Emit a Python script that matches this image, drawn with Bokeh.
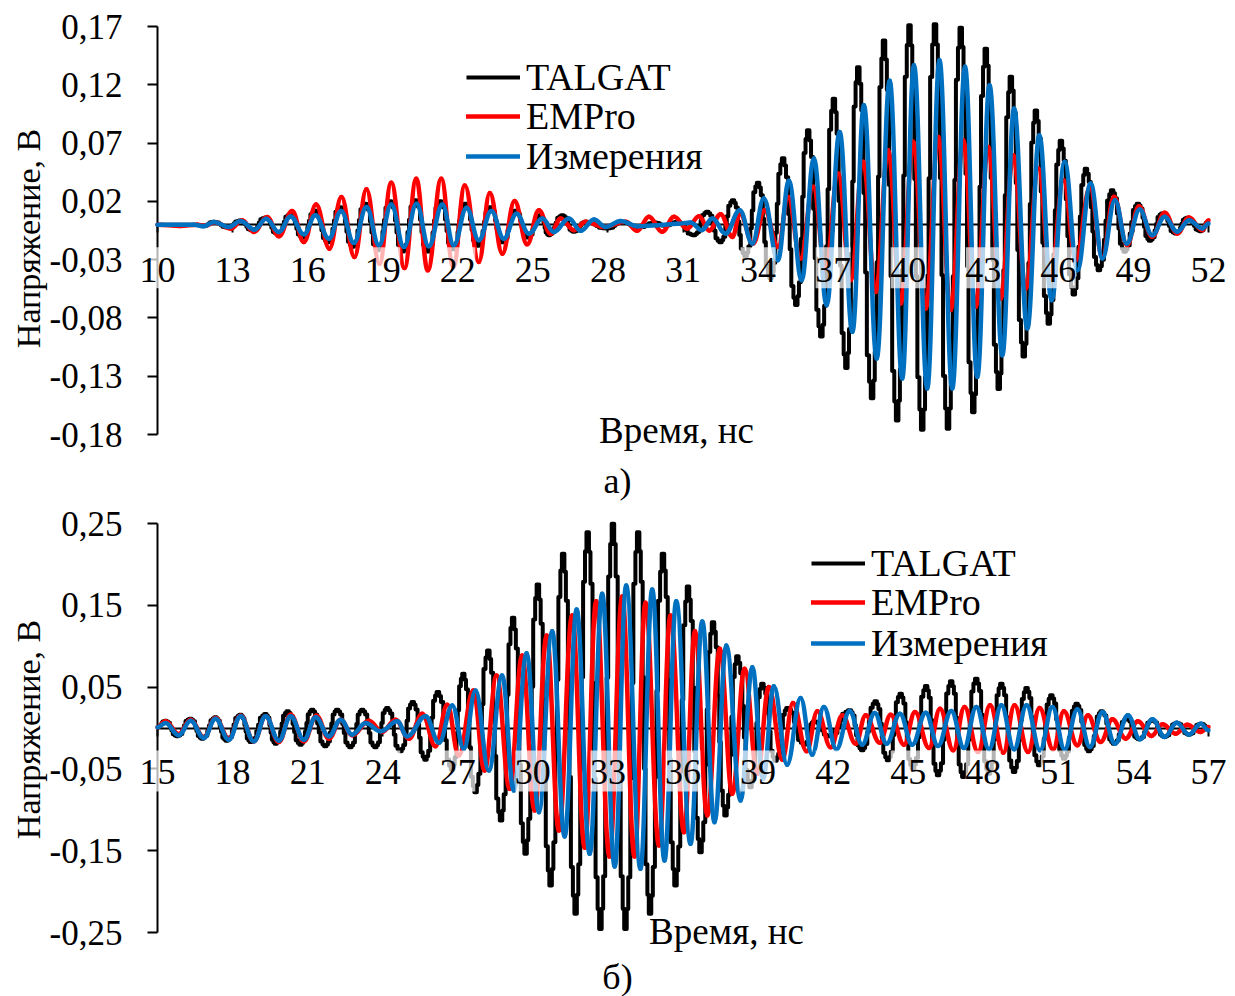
from bokeh.plotting import figure
from bokeh.layouts import column
from bokeh.models import ColumnDataSource, FixedTicker, Label, LabelSet, Legend, LegendItem
from bokeh.embed import file_html
from bokeh.resources import INLINE

# Panel a: turning points of each curve (time ns, voltage V)
A_BLACK_T = [10,11.5,11.85,12.25,12.8,13.3,13.8,14.3,14.8,15.3,15.8,16.3,16.8,17.3,17.8,18.3,18.8,19.3,19.8,20.3,20.8,21.3,21.8,22.3,22.8,23.3,23.8,24.3,24.8,25.3,25.64,26.18,26.64,27.11,27.97,28.6,29.2,29.9,30.3,30.77,31.44,31.97,32.5,33.0,33.5,34,34.5,35,35.53,36,36.53,37.03,37.53,38,38.56,39.03,39.56,40.05,40.56,41.07,41.59,42.1,42.6,43.1,43.62,44.1,44.62,45.1,45.62,46.1,46.62,47.1,47.62,48.15,48.65,49.18,49.66,50.15,50.69,51.15,51.69,52]
A_BLACK_V = [0,0,-.001,.0025,-.0025,.0035,-.005,.006,-.008,.009,-.011,.012,-.015,.015,-.019,.018,-.022,.02,-.023,.021,-.023,.02,-.021,.018,-.018,.015,-.015,.012,-.011,.008,-.009,.0081,-.0061,.0024,-.0033,.0022,-.0025,.0018,-.001,.0024,-.009,.011,-.015,.021,-.027,.036,-.046,.057,-.069,.081,-.096,.108,-.123,.135,-.149,.158,-.168,.171,-.176,.172,-.175,.169,-.161,.151,-.141,.127,-.113,.098,-.085,.072,-.06,.048,-.039,.0296,-.0233,.018,-.0139,.0096,-.0076,.0059,-.0056,.0024]
A_RED_T = [10,10.9,11.6,11.9,12.3,12.92,13.38,13.85,14.38,14.85,15.38,15.85,16.34,16.87,17.35,17.87,18.35,18.87,19.34,19.87,20.34,20.8,21.34,21.82,22.28,22.84,23.28,23.78,24.27,24.77,25.24,25.71,26.11,26.64,27.11,27.84,28.71,29.17,29.64,30.17,30.64,31.17,31.64,32.05,32.5,32.98,33.27,33.8,34.26,34.8,35.2,35.7,36.2,36.7,37.2,37.7,38.2,38.7,39.2,39.7,40.2,40.7,41.2,41.7,42.2,42.7,43.2,43.7,44.2,44.7,45.2,45.7,46.2,46.7,47.26,47.76,48.22,48.75,49.22,49.75,50.25,50.75,51.22,51.75,52]
A_RED_V = [0,-.0012,0,-.001,.002,-.0034,.0037,-.0063,.0066,-.01,.0117,-.0149,.0172,-.0206,.0237,-.0277,.0303,-.0335,.036,-.0372,.0395,-.0392,.0395,-.0363,.0337,-.032,.0272,-.0249,.0203,-.0169,.0123,-.0077,.0053,-.0047,.0024,-.0019,.0024,-.0053,.0067,-.0061,.0067,-.0033,.0073,-.005,.009,-.0105,.0096,-.0162,.0124,-.019,.0238,-.029,.0326,-.0378,.0439,-.0477,.0539,-.0577,.0639,-.0677,.0711,-.0719,.0753,-.0733,.0725,-.0705,.0667,-.0634,.0596,-.0548,.0482,-.0449,.0382,-.0305,.032,-.028,.0239,-.0176,.0159,-.0104,.0102,-.0076,.0061,-.0047,.0039]
A_BLUE_T = [10,11.45,11.85,12.25,12.85,13.32,13.88,14.34,14.85,15.32,15.85,16.31,16.85,17.34,17.85,18.35,18.85,19.34,19.85,20.35,20.84,21.38,21.84,22.35,22.84,23.34,23.84,24.35,24.84,25.38,25.84,26.44,26.91,27.44,27.91,28.51,29.17,29.97,30.77,31.3,31.75,32.17,32.7,33.27,33.77,34.23,34.79,35.23,35.74,36.23,36.74,37.26,37.77,38.23,38.74,39.26,39.76,40.23,40.76,41.25,41.76,42.27,42.76,43.25,43.76,44.23,44.76,45.24,45.73,46.25,46.76,47.29,47.76,48.26,48.73,49.25,49.75,50.25,50.75,51.22,51.75,52]
A_BLUE_V = [0,0,-.0014,.0023,-.002,.0031,-.0043,.0051,-.0063,.0071,-.0083,.008,-.012,.0117,-.0157,.0152,-.0177,.0172,-.0192,.018,-.0186,.0172,-.0177,.0146,-.0134,.0117,-.012,.0094,-.0077,.0053,-.0062,.0053,-.0053,.0044,-.002,.0032,-.0013,-.0004,.0007,.0019,-.0047,.0053,-.0076,.0124,-.0162,.0225,-.0305,.0376,-.0476,.0568,-.0691,.0796,-.0919,.1025,-.1148,.1234,-.132,.1368,-.1405,.1411,-.1405,.1354,-.1306,.1197,-.112,.0997,-.089,.0768,-.0648,.0539,-.039,.0353,-.029,.021,-.0162,.013,-.009,.0067,-.0061,.0039,-.0033,.001]

# Panel b
B_BLACK_T = [15,15.32,15.79,16.32,16.79,17.32,17.76,18.32,18.72,19.32,19.72,20.2,20.72,21.18,21.71,22.18,22.71,23.18,23.71,24.18,24.71,25.2,25.71,26.2,26.78,27.22,27.71,28.22,28.73,29.21,29.71,30.2,30.71,31.21,31.71,32.19,32.7,33.2,33.7,34.21,34.68,35.2,35.7,36.2,36.7,37.2,37.7,38.17,38.7,39.17,39.7,40.17,40.86,41.23,41.87,42.67,43.16,43.7,44.19,44.7,45.19,45.72,46.19,46.72,47.2,47.72,48.23,48.72,49.23,49.73,50.23,50.72,51.23,51.73,52.22,52.73,53.22,53.73,54.22,54.76,55.25,55.73,56.22,56.69,57]
B_BLACK_V = [.001,.009,-.0102,.0114,-.013,.013,-.0155,.0163,-.0171,.0171,-.0192,.0204,-.0204,.0224,-.0224,.0224,-.0236,.0224,-.0236,.0245,-.0285,.0318,-.0387,.044,-.0509,.0662,-.0784,.0947,-.1131,.1347,-.1538,.1754,-.1925,.2129,-.2272,.2394,-.2456,.2496,-.2456,.2394,-.2272,.2129,-.1925,.173,-.1518,.1294,-.107,.0878,-.0723,.054,-.04,.0245,-.0204,.0082,-.0102,.0216,-.0273,.0326,-.0395,.042,-.0497,.0513,-.0579,.057,-.0599,.0603,-.0558,.0542,-.0538,.0489,-.0456,.0399,-.0375,.0297,-.0285,.0204,-.0192,.0113,-.0139,.0095,-.011,.0065,-.0081,.0053,.001]
B_RED_T = [15,15.32,15.85,16.32,16.85,17.32,17.85,18.32,18.85,19.32,19.85,20.32,20.85,21.35,21.85,22.32,22.78,23.45,23.98,24.51,25.05,25.58,26.11,26.58,27.04,27.62,28.07,28.55,29.07,29.57,30.07,30.55,31.04,31.57,32.07,32.53,33.06,33.57,34.06,34.5,35.04,35.5,36.04,36.48,36.97,37.47,37.97,38.46,38.97,39.43,39.97,40.39,40.94,41.37,41.9,42.37,42.9,43.3,43.86,44.3,44.83,45.27,45.83,46.27,46.8,47.25,47.79,48.27,48.8,49.25,49.79,50.25,50.79,51.22,51.76,52.18,52.69,53.16,53.69,54.18,54.72,55.16,55.69,56.15,56.69,57]
B_RED_V = [.001,.0081,-.0073,.0102,-.0114,.0122,-.013,.0151,-.0163,.0143,-.0171,.0163,-.0163,.0151,-.013,.0102,-.009,.009,-.0049,.0102,-.013,.0175,-.0224,.0285,-.0336,.0458,-.052,.0642,-.0744,.0886,-.1009,.1131,-.1253,.1375,-.1465,.155,-.1571,.1607,-.1571,.153,-.1436,.1375,-.1273,.1184,-.107,.0968,-.0805,.0723,-.056,.05,-.0387,.0306,-.0285,.0204,-.0235,.0155,-.0192,.0155,-.0179,.0163,-.0204,.0196,-.0245,.0236,-.0273,.0257,-.0293,.0277,-.0302,.0277,-.0293,.0244,-.0261,.0204,-.0212,.0155,-.0171,.0106,-.013,.0081,-.0098,.0045,-.0069,.0041,-.0049,.0012]
B_BLUE_T = [15,15.32,15.85,16.32,16.85,17.32,17.85,18.32,18.85,19.32,19.85,20.32,20.85,21.32,21.85,22.32,22.78,23.32,23.91,24.58,24.98,25.71,26.25,26.78,27.24,27.71,28.24,28.77,29.24,29.75,30.24,30.77,31.27,31.75,32.27,32.77,33.27,33.73,34.3,34.77,35.26,35.73,36.3,36.77,37.26,37.73,38.3,38.77,39.2,39.63,40.16,40.7,41.16,41.63,42.13,42.66,43.16,43.66,44.14,44.67,45.16,45.7,46.19,46.72,47.23,47.72,48.23,48.72,49.23,49.73,50.27,50.76,51.25,51.76,52.26,52.76,53.26,53.78,54.26,54.76,55.25,55.73,56.22,56.69,57]
B_BLUE_V = [.001,.0061,-.009,.009,-.0122,.0114,-.0143,.0143,-.0163,.0143,-.0155,.0143,-.0143,.013,-.0102,.0102,-.0081,.0061,-.0041,.0081,-.0102,.0143,-.018,.0275,-.0255,.0458,-.052,.0642,-.0764,.0915,-.1029,.1184,-.1326,.1449,-.1538,.164,-.1693,.1742,-.1722,.1693,-.162,.155,-.1416,.1302,-.1151,.1009,-.0886,.0744,-.0621,.0509,-.0448,.0367,-.0326,.0257,-.0261,.0208,-.0204,.0183,-.0192,.0175,-.0204,.0187,-.022,.0208,-.0245,.0257,-.0261,.0277,-.0261,.0277,-.0273,.0257,-.0261,.0228,-.0232,.0196,-.0192,.0155,-.0139,.0106,-.011,.0065,-.0081,.0053,-.0029]

A_XTICKS = [10,13,16,19,22,25,28,31,34,37,40,43,46,49,52]
B_XTICKS = [15,18,21,24,27,30,33,36,39,42,45,48,51,54,57]
A_YTICKS = [.17,.12,.07,.02,-.03,-.08,-.13,-.18]
A_YLABELS = ["0,17","0,12","0,07","0,02","-0,03","-0,08","-0,13","-0,18"]
B_YTICKS = [.25,.15,.05,-.05,-.15,-.25]
B_YLABELS = ["0,25","0,15","0,05","-0,05","-0,15","-0,25"]
SERIES = ["TALGAT", "EMPro", "Измерения"]

FONT = "Liberation Serif"
COLORS = ["#000000", "#FF0000", "#0070C0"]
W = 1235
AX_L, AX_R = 157, 1208   # pixel span of the x axis on the canvas

# Drawing styles only: the hold-steps of the stepped black trace, and the control
# handle of the smooth (Excel-style) curve between two read turning points.
STEP_TIME = [.1, .22, .38, .5, .62, .78, .9]
STEP_LEVEL = [.05, .13, .38, .62, .87, .95, 1]
HANDLE = .4


def stepped(ts, vs):
    xs, ys = [ts[0]], [vs[0]]
    for t0, t1, v0, v1 in zip(ts, ts[1:], vs, vs[1:]):
        level = v0
        for ft, fl in zip(STEP_TIME, STEP_LEVEL):
            xs += [t0 + (t1 - t0) * ft] * 2
            ys += [level, v0 + (v1 - v0) * fl]
            level = ys[-1]
        xs.append(t1)
        ys.append(v1)
    return xs, ys


def smooth(ts, vs):
    return ColumnDataSource(dict(
        x0=ts[:-1], y0=vs[:-1], x1=ts[1:], y1=vs[1:],
        cx0=[a + (b - a) * HANDLE for a, b in zip(ts, ts[1:])], cy0=vs[:-1],
        cx1=[b - (b - a) * HANDLE for a, b in zip(ts, ts[1:])], cy1=vs[1:]))


def panel(xticks, yticks, ylabels, black, red, blue, origin, H, page_top, page_bottom, legend_x,
          legend_rows, box_off, text_off, ylab_y, xlab_xy, tag, tag_y):
    top, bottom = page_top - origin, page_bottom - origin
    sx = (AX_R - AX_L) / (xticks[-1] - xticks[0])
    sy = (bottom - top) / (yticks[0] - yticks[-1])
    p = figure(width=W, height=H, output_backend="svg", toolbar_location=None,
               x_range=(xticks[0] - AX_L / sx, xticks[-1] + (W - AX_R) / sx),
               y_range=(yticks[-1] - (H - bottom) / sy, yticks[0] + top / sy),
               min_border=0, outline_line_color=None,
               background_fill_color="white", border_fill_color="white")
    p.grid.visible = False

    ya = p.yaxis[0]
    ya.fixed_location = xticks[0]
    ya.bounds = (yticks[-1], yticks[0])
    ya.level = "underlay"
    ya.ticker = FixedTicker(ticks=yticks)
    ya.major_label_overrides = dict(zip(yticks, ylabels))
    ya.major_label_text_font = FONT
    ya.major_label_text_font_size = "35px"
    ya.major_label_text_color = "#000000"
    ya.major_label_standoff = 25
    ya.major_tick_in, ya.major_tick_out = 0, 10
    ya.major_tick_line_width = ya.axis_line_width = 2
    ya.minor_tick_line_color = None

    xa = p.xaxis[0]
    xa.fixed_location = 0
    xa.bounds = (xticks[0], xticks[-1])
    xa.level = "underlay"
    xa.ticker = FixedTicker(ticks=xticks)
    xa.major_label_overrides = {t: "" for t in xticks}
    xa.major_tick_in, xa.major_tick_out = 0, 8
    xa.major_tick_line_width = xa.axis_line_width = 2
    xa.minor_tick_line_color = None

    bx, by = stepped(*black)
    r0 = p.line(bx, by, line_color=COLORS[0], line_width=4, line_join="round")
    glyph = dict(x0="x0", y0="y0", x1="x1", y1="y1", cx0="cx0", cy0="cy0", cx1="cx1", cy1="cy1",
                 line_width=4.5, line_cap="round")
    r1 = p.bezier(source=smooth(*red), line_color=COLORS[1], **glyph)
    r2 = p.bezier(source=smooth(*blue), line_color=COLORS[2], **glyph)

    # Translucent white plates behind the tick labels, over the curves
    p.rect(x=xticks, y=[-box_off / sy] * len(xticks), width=35, height=41,
           width_units="screen", height_units="screen",
           fill_color="white", fill_alpha=.7, line_color=None)
    p.add_layout(LabelSet(x="x", y="y", text="t",
                          source=ColumnDataSource(dict(x=xticks, y=[0] * len(xticks),
                                                       t=[str(t) for t in xticks])),
                          y_offset=-text_off, text_font=FONT, text_font_size="36px",
                          text_color="#000000", text_align="center", text_baseline="middle"))

    # One single-row legend per series, so that the row pitch can match the reference
    for s, r, row_bottom in zip(SERIES, [r0, r1, r2], legend_rows):
        p.add_layout(Legend(items=[LegendItem(label=s, renderers=[r])],
                            location=(legend_x, H - (row_bottom - origin)),
                            padding=0, margin=0, spacing=0,
                            glyph_width=54, glyph_height=38, label_standoff=6, label_height=38,
                            label_text_font=FONT, label_text_font_size="38px",
                            label_text_color="#000000", background_fill_alpha=0,
                            border_line_color=None))

    def txt(s, x, y, angle=0, size="37px"):
        p.add_layout(Label(x=x, y=H - (y - origin), x_units="screen", y_units="screen", text=s,
                           angle=angle, text_font=FONT, text_font_size=size, text_color="#000000",
                           text_align="center", text_baseline="middle"))

    txt("Напряжение, В", 28, ylab_y, angle=1.5708, size="34px")
    txt("Время, нс", xlab_xy[0], xlab_xy[1])
    txt(tag, 617, tag_y, size="36px")
    return p


p1 = panel(A_XTICKS, A_YTICKS, A_YLABELS, (A_BLACK_T, A_BLACK_V), (A_RED_T, A_RED_V),
           (A_BLUE_T, A_BLUE_V), 0, 502, 26, 434, 466, (99, 138, 178), 43, 45, 238, (676, 430), "а)", 480)
p2 = panel(B_XTICKS, B_YTICKS, B_YLABELS, (B_BLACK_T, B_BLACK_V), (B_RED_T, B_RED_V),
           (B_BLUE_T, B_BLUE_V), 502, 494, 523, 932, 811, (585, 624, 665), 43, 44, 729, (726, 931), "б)", 976)

open("out.html", "w").write(file_html(column(p1, p2), INLINE))
